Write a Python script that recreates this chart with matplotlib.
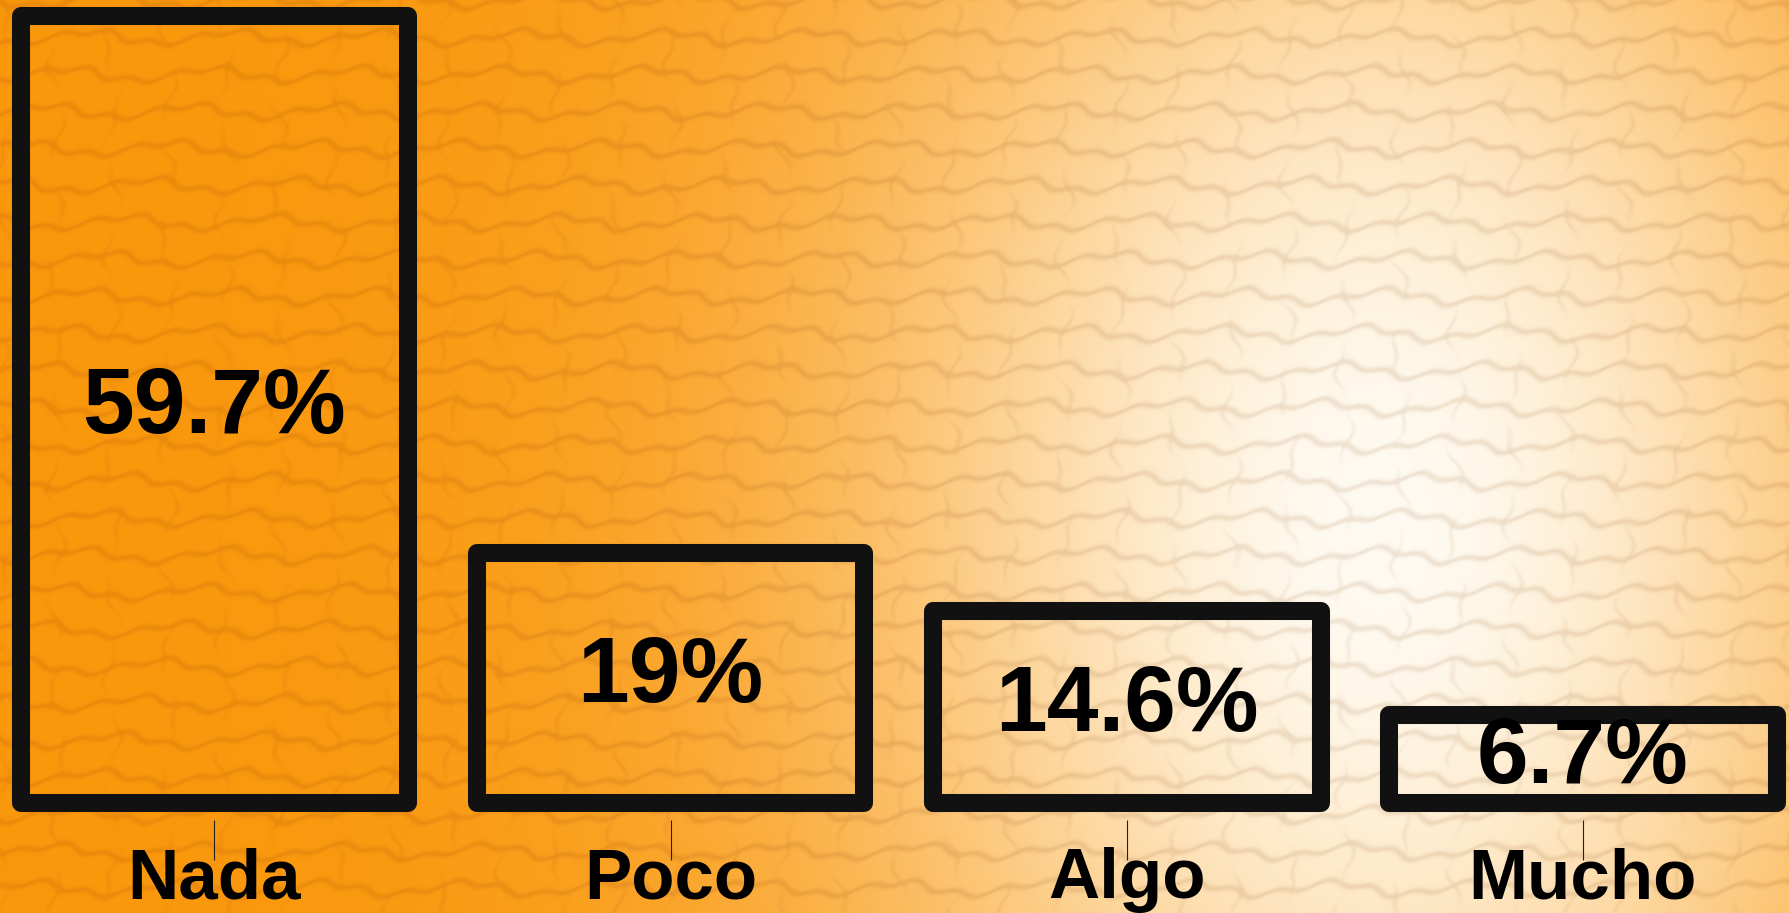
import matplotlib

matplotlib.use("Agg")
import matplotlib.pyplot as plt
import numpy as np

categories = ["Nada", "Poco", "Algo", "Mucho"]
values = [59.7, 19, 14.6, 6.7]
value_labels = ["59.7%", "19%", "14.6%", "6.7%"]

W, H = 1789, 913
plt.rcParams["font.family"] = ["Liberation Sans", "DejaVu Sans"]

fig = plt.figure(figsize=(W / 100, H / 100), dpi=100)

# background: orange with a bright glow right of centre, plus a faint pebble texture
yy, xx = np.mgrid[0:H, 0:W].astype(float)
t = np.exp(-(((xx - 1380) / 375.0) ** 2 + ((yy - 530) / 570.0) ** 2) / 2)
orange = np.array([250, 152, 12]) / 255
light = np.array([255, 251, 242]) / 255
bg = orange * (1 - t[..., None]) + light * t[..., None]

wob = 6 * np.sin(xx / 23 + yy / 40) + 3 * np.sin(xx / 7.3 + yy / 13)
ph = (yy - wob) / 37.0
d = (ph - np.round(ph)) * 37.0
rows = np.exp(-(d ** 2) / (2 * 2.2 ** 2))
wob2 = 7 * np.sin(yy / 17 + xx / 50) + 3 * np.sin(yy / 6.1)
ph2 = (xx - wob2) / 56.0
d2 = (ph2 - np.round(ph2)) * 56.0
cols = np.exp(-(d2 ** 2) / (2 * 1.8 ** 2)) * (0.5 + 0.5 * np.sin(yy / 11 + xx / 31))
tex = np.clip(rows + 0.6 * cols, 0, 1)
shade = np.array([0.06, 0.09, 0.12])
bg = bg * (1 - shade * tex[..., None])

bg_ax = fig.add_axes([0, 0, 1, 1], zorder=0)
bg_ax.imshow(bg, aspect="auto", interpolation="bilinear")
bg_ax.axis("off")

ax = fig.add_axes([0, 0.1205, 1, 0.862], zorder=1)
ax.patch.set_alpha(0)
for s in ["top", "right", "left"]:
    ax.spines[s].set_visible(False)
ax.spines["bottom"].set_position(("outward", 12.2))
ax.spines["bottom"].set_visible(False)

x = np.arange(len(categories))
bars = ax.bar(x, values, width=0.85, facecolor="none", edgecolor="#111111",
              linewidth=13, joinstyle="round")
for b in bars:
    b.set_clip_on(False)

for xi, v, lab in zip(x, values, value_labels):
    ax.text(xi, v / 2, lab, ha="center", va="center", fontsize=67,
            fontweight="bold", color="black")

ax.set_xlim(-0.470, 3.452)
ax.set_ylim(0, max(values))
ax.set_xticks(x)
ax.set_xticklabels(categories)
ax.tick_params(axis="x", length=29, width=0.8, color="#222222", pad=-9.5,
               labelsize=51)
for lbl in ax.get_xticklabels():
    lbl.set_fontweight("bold")
ax.set_yticks([])

plt.savefig("out.png", dpi=100)
plt.close(fig)
